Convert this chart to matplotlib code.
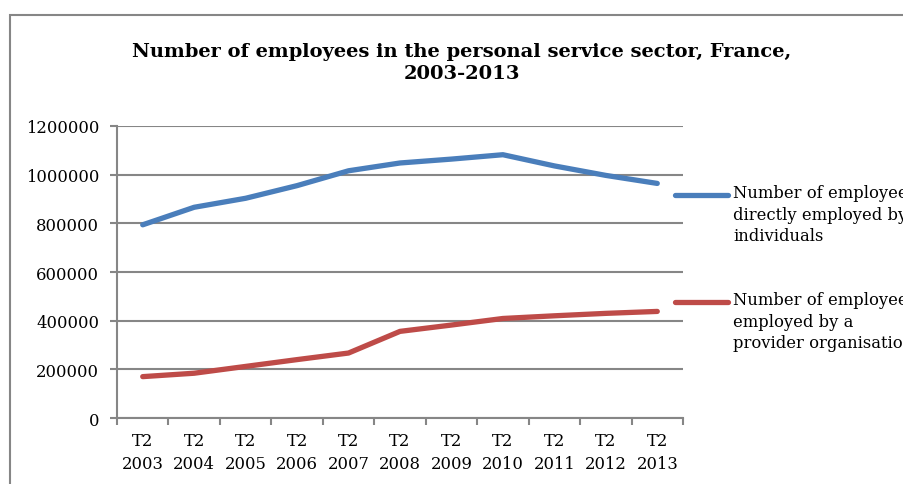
import matplotlib
matplotlib.use("Agg")
import matplotlib.pyplot as plt
from matplotlib.patches import Rectangle
from matplotlib.lines import Line2D

# data
years = ["2003", "2004", "2005", "2006", "2007", "2008", "2009", "2010", "2011", "2012", "2013"]
direct = [794000, 866000, 903000, 955000, 1016000, 1048000, 1064000, 1082000, 1036000, 997000, 964000]
provider = [170000, 184000, 212000, 240000, 267000, 356000, 382000, 409000, 420000, 430000, 438000]
labels = ["Number of employees\ndirectly employed by\nindividuals",
          "Number of employees\nemployed by a\nprovider organisation"]
title = "Number of employees in the personal service sector, France,\n2003-2013"

plt.rcParams["font.family"] = ["DejaVu Serif"]
blue = "#4a7ebb"
red = "#be4b48"
grey = "#868686"

W, H = 904, 485
fig = plt.figure(figsize=(W / 100, H / 100), dpi=100)
ax = fig.add_axes([117 / W, 1 - 419 / H, (683 - 117) / W, (419 - 127) / H])

# chart border (runs off the right and bottom edges)
fig.patches.append(Rectangle((9.5 / W, -0.1), 1.2, 1 - 15.5 / H + 0.1,
                             transform=fig.transFigure, fill=False,
                             edgecolor=grey, linewidth=1.5))

x = list(range(len(years)))
ax.plot(x, direct, color=blue, lw=3.8, solid_capstyle="round", solid_joinstyle="round", zorder=3)
ax.plot(x, provider, color=red, lw=3.8, solid_capstyle="round", solid_joinstyle="round", zorder=3)

ax.set_xlim(-0.5, len(years) - 0.5)
ax.set_ylim(0, 1200000)
ax.set_yticks(range(0, 1200001, 200000))
ax.set_yticklabels([str(v) for v in range(0, 1200001, 200000)], fontsize=11.8)
ax.yaxis.grid(True, color=grey, lw=1.5)
ax.set_axisbelow(True)

ax.set_xticks([i - 0.5 for i in range(len(years) + 1)])
ax.set_xticklabels([])
ax.set_xticks(x, minor=True)
ax.set_xticklabels(["T2\n" + y for y in years], minor=True, fontsize=11.8, linespacing=1.5)
ax.tick_params(axis="x", which="minor", length=0, pad=10)
ax.tick_params(axis="both", which="major", length=5, width=1.5, color=grey)
ax.tick_params(axis="y", pad=8)

for s in ["top", "right"]:
    ax.spines[s].set_visible(False)
for s in ["left", "bottom"]:
    ax.spines[s].set_color(grey)
    ax.spines[s].set_linewidth(1.5)

fig.text(462 / W, 1 - 63 / H, title, ha="center", va="center", fontsize=14,
         fontweight="bold", linespacing=1.35)

# legend drawn by hand so the text can run past the edge like the original
for col, lab, yy in [(blue, labels[0], 196), (red, labels[1], 303)]:
    fig.add_artist(Line2D([675 / W, 728 / W], [1 - yy / H, 1 - yy / H], color=col, lw=3.8,
                          solid_capstyle="round", transform=fig.transFigure))
    fig.text(733 / W, 1 - (yy - 11) / H, lab, ha="left", va="top", fontsize=11.8, linespacing=1.35)

fig.savefig("out.png", dpi=100)
